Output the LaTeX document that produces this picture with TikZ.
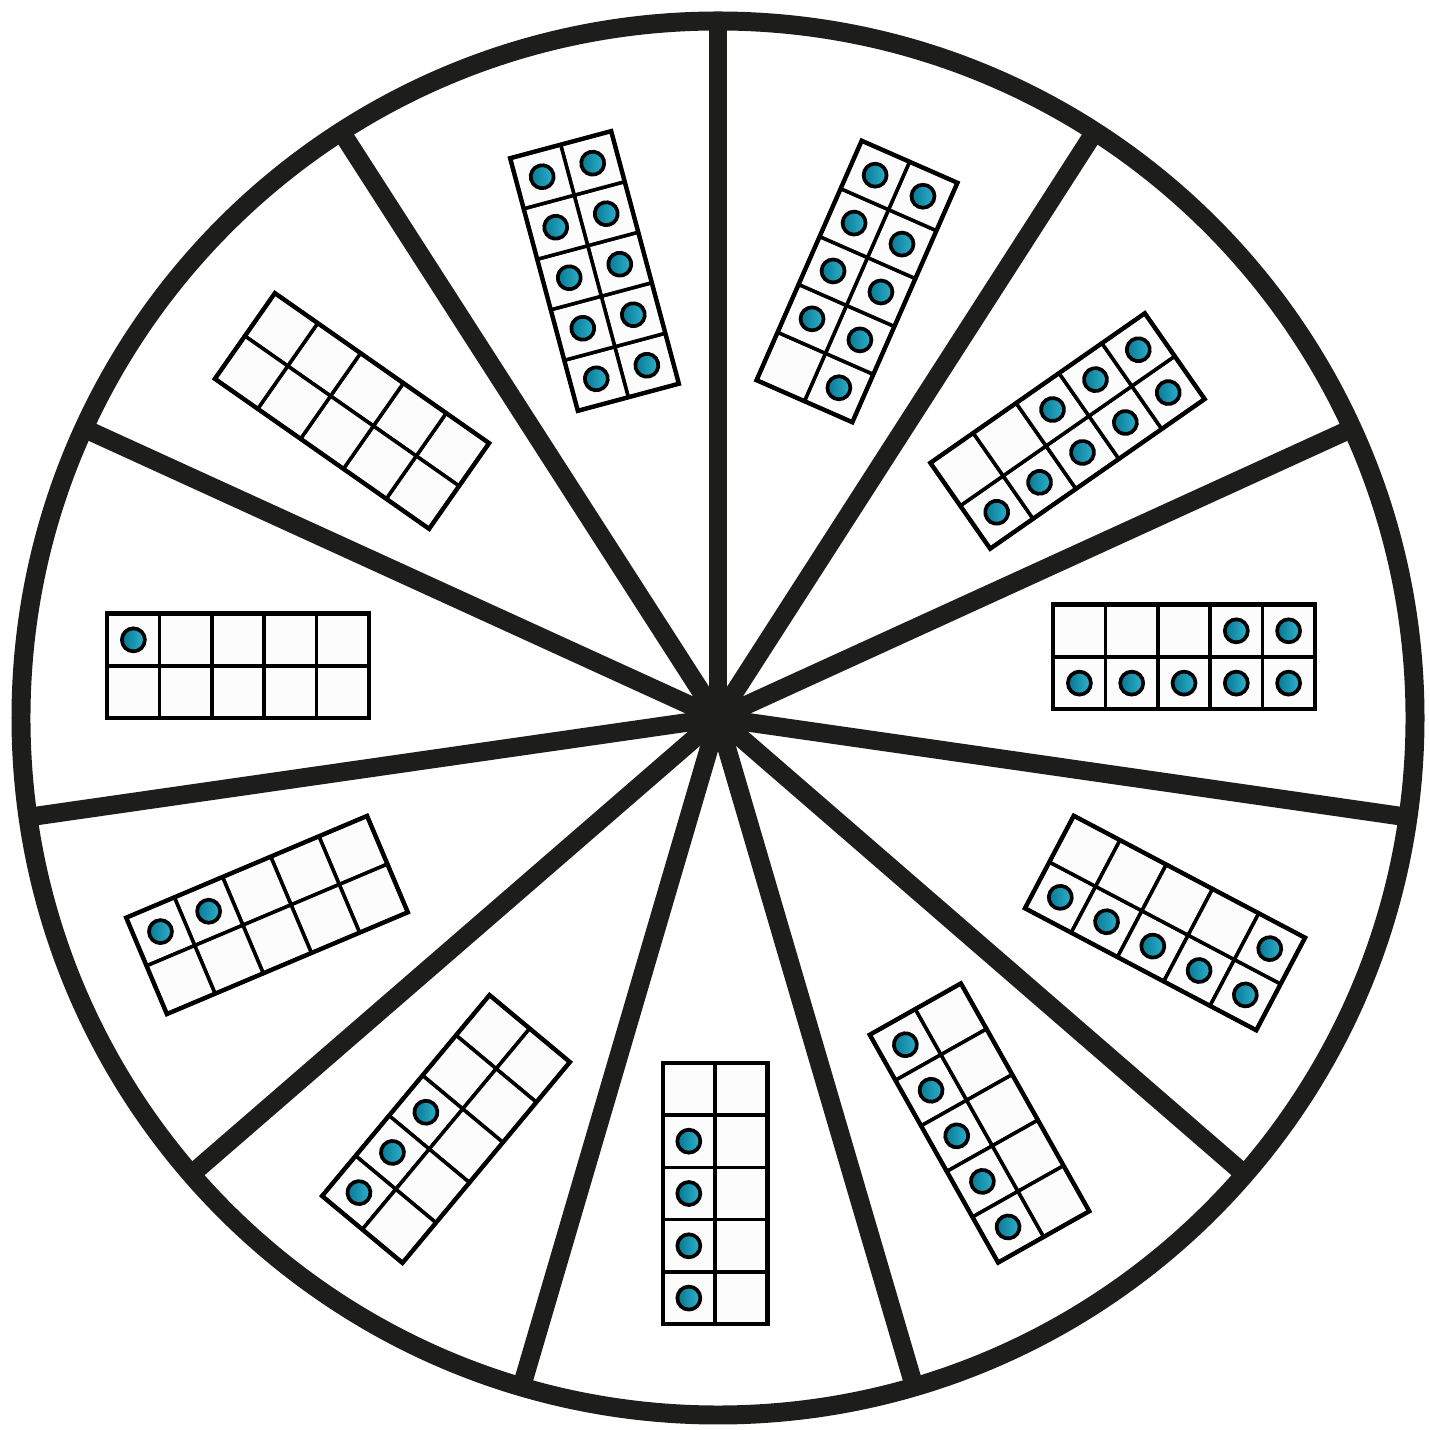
\documentclass[tikz,border=0pt]{standalone}
\usepackage{tikz}

\definecolor{rimgray}{RGB}{29,29,27}
\definecolor{counterdark}{RGB}{6,118,146}
\definecolor{counterlight}{RGB}{48,180,206}
\definecolor{cellwhite}{RGB}{252,252,252}

\begin{document}
\begin{tikzpicture}[
  rim/.style={draw=rimgray, line width=5.4pt},
  spoke/.style={draw=rimgray, line width=5.3pt},
  cell/.style={draw=black, fill=cellwhite, line width=1pt},
  frameedge/.style={draw=black, line width=1.25pt},
  counter/.style={draw=black, line width=1.05pt,
    left color=counterdark, right color=counterlight},
]

% ---- Canvas: 1430 px -> 14.3 cm, wheel centre at (0,0) ----
\useasboundingbox (-7.18,-7.12) rectangle (7.12,7.18);

% ---- Wheel: 11 spokes and the rim ----
\foreach \k in {0,...,10} {
  \draw[spoke] (0,0) -- ({90-\k*360/11}:6.97);
}
\draw[rim] (0,0) circle (6.97);

% ---- Ten frames ----
% centre x / centre y / angle of the outer end / counters
% counters fill the lower row from the outer end, then the upper row
\def\cellside{0.523}
\foreach \cx/\cy/\rot/\val in {
  -3.66/3.07/145/0,
  -4.80/0.52/180/1,
  -4.51/-1.97/-157.1/2,
  -2.72/-4.11/-129.8/3,
  -0.03/-4.755/-90/4,
  2.615/-4.05/-60.6/5,
  4.47/-2.05/-27.8/6,
  4.66/0.61/0/7,
  3.495/2.87/34.9/8,
  1.39/4.365/66.3/9,
  -1.235/4.47/105/10
} {
  \begin{scope}[shift={(\cx,\cy)}, rotate=\rot]
    % cells
    \foreach \col in {0,...,4} {
      \foreach \row in {0,1} {
        \draw[cell] ({(\col-2.5)*\cellside},{(\row-1)*\cellside})
          rectangle ++(\cellside,\cellside);
      }
    }
    \draw[frameedge] ({-2.5*\cellside},{-\cellside})
      rectangle ({2.5*\cellside},{\cellside});
    % counters
    \foreach \m in {1,...,10} {
      \ifnum\m>\val\relax\else
        \pgfmathsetmacro\col{\m<6 ? 5-\m : 10-\m}
        \pgfmathsetmacro\row{\m<6 ? 0 : 1}
        \draw[counter] ({(\col-2)*\cellside},{(\row-0.5)*\cellside})
          circle (0.115);
      \fi
    }
  \end{scope}
}

\end{tikzpicture}
\end{document}
